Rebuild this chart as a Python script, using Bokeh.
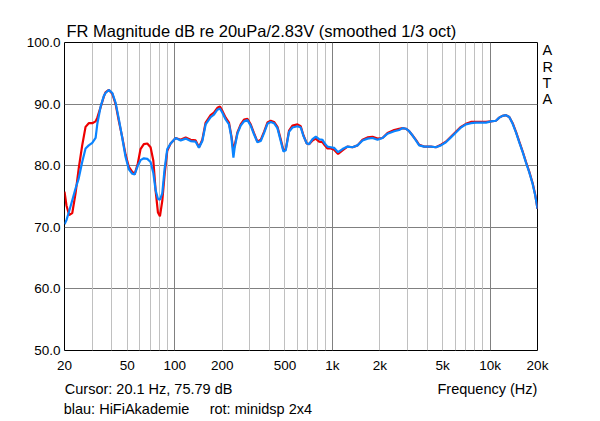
from bokeh.plotting import figure
from bokeh.models import (Range1d, FixedTicker, Grid, PrintfTickFormatter,
                          LogAxis, LinearAxis)
from bokeh.embed import file_html
from bokeh.resources import INLINE

# ---- data ----
freq = [20, 20.6, 21.4, 22.4, 23.5, 24.6, 25.9, 27.2, 28.5, 30.0, 31.5, 32.3, 33.9, 35.5, 36.4,
        38.2, 40.2, 42.2, 44.2, 46.5, 48.8, 51.2, 53.8, 55.7, 58.4, 60.7, 63.7, 67.0, 70.3,
        73.2, 75.7, 78.3, 80.6, 83.4, 86.3, 89.7, 94.2, 101.4, 109.1, 117.3, 126.2, 135.8,
        142.5, 149.7, 157.1, 169.0, 177.4, 186.5, 193.7, 200.6, 210.5, 221.0, 228.9, 235.7,
        240.2, 249.9, 262.2, 275.2, 289.1, 303.4, 318.4, 334.6, 351.2, 368.6, 387.3, 406.5,
        426.6, 448.3, 470.3, 489.3, 506, 531, 558, 601, 630, 656, 688, 712, 748, 785, 824,
        866, 895, 931, 977, 1025, 1087, 1159, 1248, 1342, 1444, 1553, 1671, 1797, 1934,
        2080, 2238, 2465, 2652, 2787, 2925, 3070, 3227, 3387, 3553, 3825, 4218, 4535, 4880,
        5249, 5647, 6076, 6536, 7031, 7565, 8138, 8756, 9419, 10135, 10902, 11440, 12024,
        12619, 13244, 13917, 14605, 15330, 16110, 16905, 17745, 18650, 19370, 20000]

red_db = [75.8, 73.5, 72.0, 72.3, 75.5, 79.5, 83.3, 86.3, 86.9, 86.9, 87.2, 87.8, 89.5, 91.2, 91.9,
          92.3, 91.7, 90.0, 87.3, 84.6, 81.8, 79.8, 79.0, 78.6, 80.4, 82.7, 83.5, 83.6, 83.0,
          80.8, 75.9, 72.4, 71.8, 74.3, 78.6, 82.4, 83.6, 84.5, 84.2, 84.6, 84.2, 84.1,
          83.0, 84.2, 87.0, 88.2, 88.6, 89.4, 89.6, 88.9, 87.8, 87.0, 84.8, 82.5,
          83.3, 85.4, 86.7, 87.5, 87.6, 86.7, 85.3, 83.9, 84.2, 85.5, 87.0, 87.3,
          87.1, 86.3, 84.3, 82.5, 82.6, 85.7, 86.5, 86.7, 86.4, 84.9, 83.6, 83.5, 84.1, 84.4, 83.9,
          83.8, 83.3, 82.8, 82.8, 82.6, 81.9, 82.5, 83.1, 83.0, 83.3, 84.2, 84.6, 84.7, 84.4,
          84.5, 85.3, 85.8, 86.0, 86.1, 86.0, 85.6, 84.9, 84.2, 83.4, 83.1, 83.1, 83.0, 83.4,
          83.9, 84.7, 85.5, 86.3, 86.8, 87.1, 87.1, 87.1, 87.1, 87.2, 87.3, 87.8, 88.1,
          88.2, 87.9, 86.9, 85.5, 83.9, 82.3, 80.6, 79.0, 77.1, 75.2, 73.0]

blue_db = [70.5, 71.2, 72.6, 74.4, 76.3, 77.9, 80.6, 82.8, 83.3, 83.7, 84.5, 86.8, 89.6, 91.3, 91.8,
           92.3, 91.8, 90.2, 87.6, 84.5, 81.4, 79.4, 78.7, 78.6, 80.0, 80.9, 81.2, 81.1, 80.6,
           78.8, 76.0, 74.6, 74.5, 75.5, 79.5, 82.7, 83.6, 84.5, 84.1, 84.4, 84.0, 83.9,
           82.9, 84.0, 86.7, 87.9, 88.3, 89.1, 89.3, 88.6, 87.5, 86.7, 84.6, 81.3,
           83.0, 85.2, 86.5, 87.2, 87.4, 86.5, 85.1, 83.8, 84.0, 85.3, 86.8, 87.1,
           86.9, 86.1, 84.0, 82.3, 82.5, 85.5, 86.2, 86.4, 86.2, 84.8, 83.6, 83.5, 84.3, 84.7, 84.3,
           84.2, 83.6, 83.1, 83.0, 82.9, 82.2, 82.7, 83.1, 83.0, 83.3, 84.1, 84.4, 84.5, 84.2,
           84.5, 85.2, 85.6, 85.8, 86.1, 86.0, 85.6, 84.9, 84.1, 83.3, 83.1, 83.1, 83.0, 83.3,
           83.8, 84.6, 85.4, 86.2, 86.7, 86.9, 87.0, 87.0, 87.0, 87.2, 87.3, 87.8, 88.1,
           88.2, 87.9, 86.8, 85.4, 83.8, 82.2, 80.5, 78.9, 77.0, 75.1, 73.0]

x_ticks = [20, 50, 100, 200, 500, 1000, 2000, 5000, 10000, 20000]
x_tick_labels = ["20", "50", "100", "200", "500", "1k", "2k", "5k", "10k", "20k"]
major_grid_x = [100, 1000, 10000]
minor_grid_x = [30, 40, 50, 60, 70, 80, 90, 200, 300, 400, 500, 600, 700, 800, 900,
                2000, 3000, 4000, 5000, 6000, 7000, 8000, 9000]
y_ticks = [50, 60, 70, 80, 90, 100]

title_text = "FR Magnitude dB re 20uPa/2.83V (smoothed 1/3 oct)"
# caption rows under the axis: text and the frequency at which each text is centred
row1_text = ["Cursor: 20.1 Hz, 75.79 dB", "Frequency (Hz)"]
row1_at = [68.3, 9630]
row2_text = ["blau: HiFiAkademie", "rot: minidsp 2x4"]
row2_at = [49.5, 352]
# side letters and the dB level at which each is centred
side_text = ["A", "R", "T", "A"]
side_at = [98.8, 96.1, 93.45, 90.8]

FONT = "Liberation Sans"

p = figure(frame_width=473, frame_height=308, x_axis_type="log",
           x_range=Range1d(20, 20000), y_range=Range1d(50, 100),
           output_backend="svg", toolbar_location=None,
           min_border_left=64, min_border_right=55, min_border_top=42, min_border_bottom=70)
p.background_fill_color = "white"
p.border_fill_color = "white"
p.outline_line_color = "black"
p.outline_line_width = 1

# title
p.title.text = title_text
p.title.align = "left"
p.title.offset = 2
p.title.standoff = 5
p.title.text_font = FONT
p.title.text_font_size = "16.5px"
p.title.text_font_style = "normal"
p.title.text_color = "black"

def plain(ax, size="13.5px"):
    ax.axis_line_color = None
    ax.major_tick_line_color = None
    ax.minor_tick_line_color = None
    ax.major_tick_out = 0
    ax.major_tick_in = 0
    ax.minor_tick_out = 0
    ax.minor_tick_in = 0
    ax.major_label_text_font = FONT
    ax.major_label_text_font_size = size
    ax.major_label_text_color = "black"

plain(p.xaxis[0])
plain(p.yaxis[0])
p.xaxis[0].ticker = FixedTicker(ticks=x_ticks)
p.xaxis[0].major_label_overrides = {t: l for t, l in zip(x_ticks, x_tick_labels)}
p.xaxis[0].major_label_standoff = 7
p.yaxis[0].ticker = FixedTicker(ticks=y_ticks)
p.yaxis[0].formatter = PrintfTickFormatter(format="%.1f")
p.yaxis[0].major_label_standoff = 4

# caption rows as extra bottom axes
cap1 = LogAxis(ticker=FixedTicker(ticks=row1_at),
               major_label_overrides={t: l for t, l in zip(row1_at, row1_text)},
               major_label_standoff=5)
plain(cap1, "14.5px")
p.add_layout(cap1, "below")
cap2 = LogAxis(ticker=FixedTicker(ticks=row2_at),
               major_label_overrides={t: l for t, l in zip(row2_at, row2_text)},
               major_label_standoff=1)
plain(cap2, "14.5px")
p.add_layout(cap2, "below")

side = LinearAxis(ticker=FixedTicker(ticks=side_at),
                  major_label_overrides={t: l for t, l in zip(side_at, side_text)},
                  major_label_standoff=5)
plain(side, "14.5px")
p.add_layout(side, "right")

# grids
p.xgrid.ticker = FixedTicker(ticks=major_grid_x)
p.xgrid.grid_line_color = "#808080"
p.xgrid.grid_line_width = 1
p.ygrid.ticker = FixedTicker(ticks=y_ticks)
p.ygrid.grid_line_color = "#808080"
p.ygrid.grid_line_width = 1
minor = Grid(dimension=0, ticker=FixedTicker(ticks=minor_grid_x),
             grid_line_color="#c0c0c0", grid_line_width=1, level="underlay")
p.add_layout(minor)

# curves
p.line(freq, red_db, line_color="#ee0000", line_width=2.2)
p.line(freq, blue_db, line_color="#0a84ff", line_width=2.2)

open("out.html", "w").write(file_html(p, INLINE))
